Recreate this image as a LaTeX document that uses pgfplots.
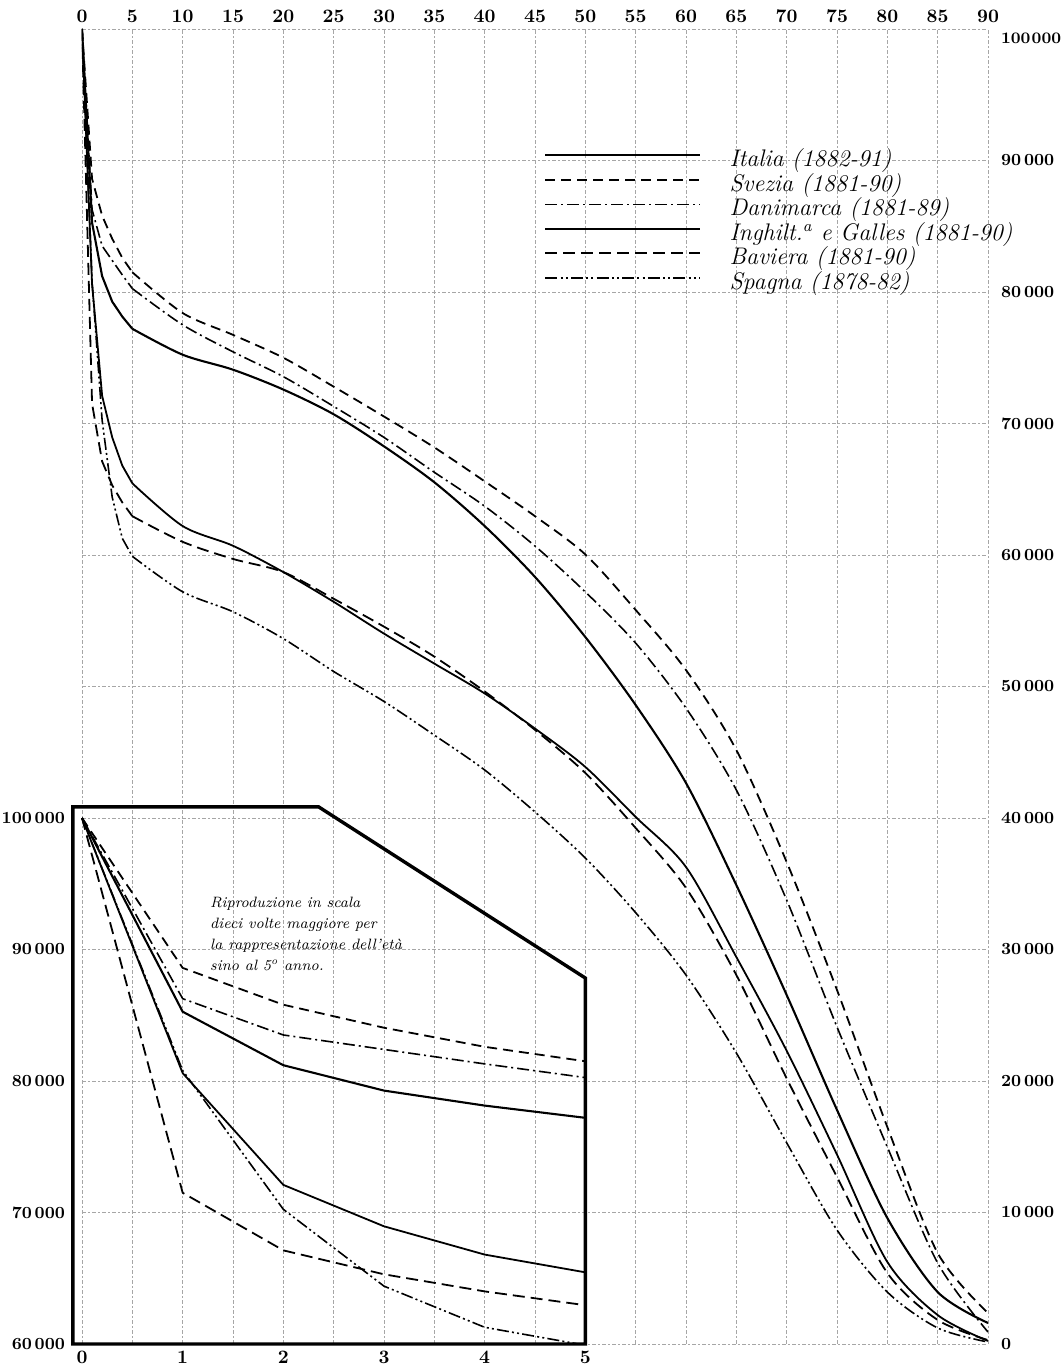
\documentclass[border=0pt]{standalone}
\usepackage{pgfplots}
\pgfplotsset{compat=1.18}
\begin{document}
\begin{tikzpicture}
\useasboundingbox (-41pt,-12pt) rectangle (489pt,672pt);
\pgfplotsset{
  lblfont/.style={font=\fontsize{8.5}{10}\selectfont\bfseries},
  xlblfont/.style={font=\fontsize{9.5}{11}\selectfont\bfseries},
  italia/.style={black, line width=0.9pt},
  svezia/.style={black, line width=0.9pt, dash pattern=on 5pt off 3pt},
  danim/.style={black, line width=0.8pt, dash pattern=on 6pt off 2pt on 1pt off 2pt},
  inghil/.style={black, line width=1.05pt},
  baviera/.style={black, line width=0.9pt, dash pattern=on 6pt off 3pt},
  spagna/.style={black, line width=0.8pt, dash pattern=on 6pt off 1.6pt on 1pt off 1.6pt on 1pt off 1.6pt},
}
% main chart: survivors by age
\begin{axis}[
  at={(0,0)}, anchor=south west,
  scale only axis, width=453pt, height=657.5pt,
  xmin=0, xmax=90, ymin=0, ymax=100000,
  scaled ticks=false,
  xtick={0,5,...,90}, ytick={0,10000,...,100000},
  xticklabels={0,5,10,15,20,25,30,35,40,45,50,55,60,65,70,75,80,85,90},
  yticklabels={0,10\,000,20\,000,30\,000,40\,000,50\,000,60\,000,70\,000,80\,000,90\,000,{\raisebox{-7.4pt}[0pt][0pt]{\fontsize{8}{10}\selectfont 100\kern0.6pt000}}},
  xticklabel pos=right, yticklabel pos=right,
  axis line style={draw=none},
  major tick length=0pt,
  grid=major,
  major grid style={gray!70, line width=0.4pt, dash pattern=on 2pt off 1.2pt on 0.6pt off 1.2pt},
  ticklabel style={lblfont},
  xticklabel style={xlblfont, yshift=-0.5pt},
  yticklabel style={xshift=3pt},
  legend cell align=left,
  legend image code/.code={\draw[#1] (0pt,3pt) -- (77.5pt,3pt);},
  legend style={draw=none, fill=none, at={(axis cs:45.3,91200)}, anchor=north west,
    font=\fontsize{12}{14}\selectfont\itshape,
    nodes={inner sep=0pt, text height=8.75pt, text depth=3.5pt},
    /tikz/every odd column/.append style={column sep=14pt}},
]
\addplot[italia, smooth, tension=0.5] coordinates {(5,65450) (10,62200) (15,60700) (20,58700) (25,56440) (30,54020) (35,51740) (40,49470) (45,46800) (50,43880) (55,40080) (60,36270) (65,29430) (70,22300) (75,14400) (80,6240) (85,2200) (90,230)};
\addlegendentry{Italia (1882-91)}
\addplot[svezia, smooth, tension=0.5] coordinates {(5,81500) (10,78400) (15,76740) (20,75000) (25,72800) (30,70530) (35,68180) (40,65600) (45,62950) (50,60040) (55,55820) (60,51250) (65,45170) (70,36650) (75,26920) (80,16500) (85,6920) (90,2360)};
\addlegendentry{Svezia (1881-90)}
\addplot[danim, smooth, tension=0.5] coordinates {(5,80260) (10,77500) (15,75450) (20,73560) (25,71300) (30,68940) (35,66290) (40,63710) (45,60680) (50,57190) (55,53300) (60,48360) (65,42130) (70,33760) (75,24110) (80,14980) (85,6160) (90,910)};
\addlegendentry{Danimarca (1881-89)}
\addplot[inghil, smooth, tension=0.5] coordinates {(5,77200) (10,75230) (15,74090) (20,72580) (25,70700) (30,68260) (35,65530) (40,62200) (45,58330) (50,53760) (55,48590) (60,42660) (65,34900) (70,26540) (75,17800) (80,9580) (85,3950) (90,1600)};
\addlegendentry{Inghilt.\textsuperscript{a} e Galles (1881-90)}
\addplot[baviera, smooth, tension=0.5] coordinates {(5,62950) (10,61000) (15,59700) (20,58700) (25,56670) (30,54550) (35,52270) (40,49620) (45,46700) (50,43420) (55,39240) (60,34680) (65,28060) (70,20200) (75,12700) (80,5400) (85,1830) (90,300)};
\addlegendentry{Baviera (1881-90)}
\addplot[spagna, smooth, tension=0.5] coordinates {(5,59900) (10,57200) (15,55680) (20,53640) (25,51140) (30,48860) (35,46300) (40,43650) (45,40460) (50,36960) (55,32800) (60,28060) (65,22130) (70,15300) (75,8670) (80,3950) (85,1220) (90,150)};
\addlegendentry{Spagna (1878-82)}
% first five years
\addplot[italia, forget plot] coordinates {(0,100000) (1,80600) (2,72100) (3,68950) (4,66800) (5,65450)};
\addplot[svezia, forget plot] coordinates {(0,100000) (1,88600) (2,85800) (3,84050) (4,82600) (5,81500)};
\addplot[danim, forget plot] coordinates {(0,100000) (1,86260) (2,83500) (3,82400) (4,81300) (5,80260)};
\addplot[inghil, forget plot] coordinates {(0,100000) (1,85270) (2,81200) (3,79270) (4,78130) (5,77200)};
\addplot[baviera, forget plot] coordinates {(0,100000) (1,71500) (2,67120) (3,65300) (4,64000) (5,62950)};
\addplot[spagna, forget plot] coordinates {(0,100000) (1,80800) (2,70240) (3,64400) (4,61270) (5,59900)};
\end{axis}
% inset: first five years at ten times the horizontal scale
\begin{axis}[
  at={(0,0)}, anchor=south west,
  scale only axis, width=251.67pt, height=263pt,
  xmin=0, xmax=5, ymin=60000, ymax=100000,
  scaled ticks=false,
  xtick={0,1,2,3,4,5}, ytick={60000,70000,80000,90000,100000},
  xticklabels={0,1,2,3,4,5},
  yticklabels={60\,000,70\,000,80\,000,90\,000,100\,000},
  axis line style={draw=none},
  major tick length=0pt,
  ticklabel style={lblfont},
  xticklabel style={xlblfont},
  yticklabel style={xshift=-5pt},
  clip=false,
]
\addplot[black, line width=1.7pt, line join=miter] coordinates {(-0.09,60000) (-0.09,100850) (2.35,100850) (5,87830) (5,60000) (-0.09,60000) (-0.09,100850)};
\addplot[italia] coordinates {(0,100000) (1,80600) (2,72100) (3,68950) (4,66800) (5,65450)};
\addplot[svezia] coordinates {(0,100000) (1,88600) (2,85800) (3,84050) (4,82600) (5,81500)};
\addplot[danim] coordinates {(0,100000) (1,86260) (2,83500) (3,82400) (4,81300) (5,80260)};
\addplot[inghil] coordinates {(0,100000) (1,85270) (2,81200) (3,79270) (4,78130) (5,77200)};
\addplot[baviera] coordinates {(0,100000) (1,71500) (2,67120) (3,65300) (4,64000) (5,62950)};
\addplot[spagna] coordinates {(0,100000) (1,80800) (2,70240) (3,64400) (4,61270) (4.93,60000)};
\node[anchor=north west, align=left, inner sep=0pt, font=\fontsize{7.5}{10.5}\selectfont\itshape]
  at (axis cs:1.27,94000) {Riproduzione in scala\\dieci volte maggiore per\\la rappresentazione dell'età\\sino al 5\textsuperscript{o} anno.};
\end{axis}
\end{tikzpicture}
\end{document}
